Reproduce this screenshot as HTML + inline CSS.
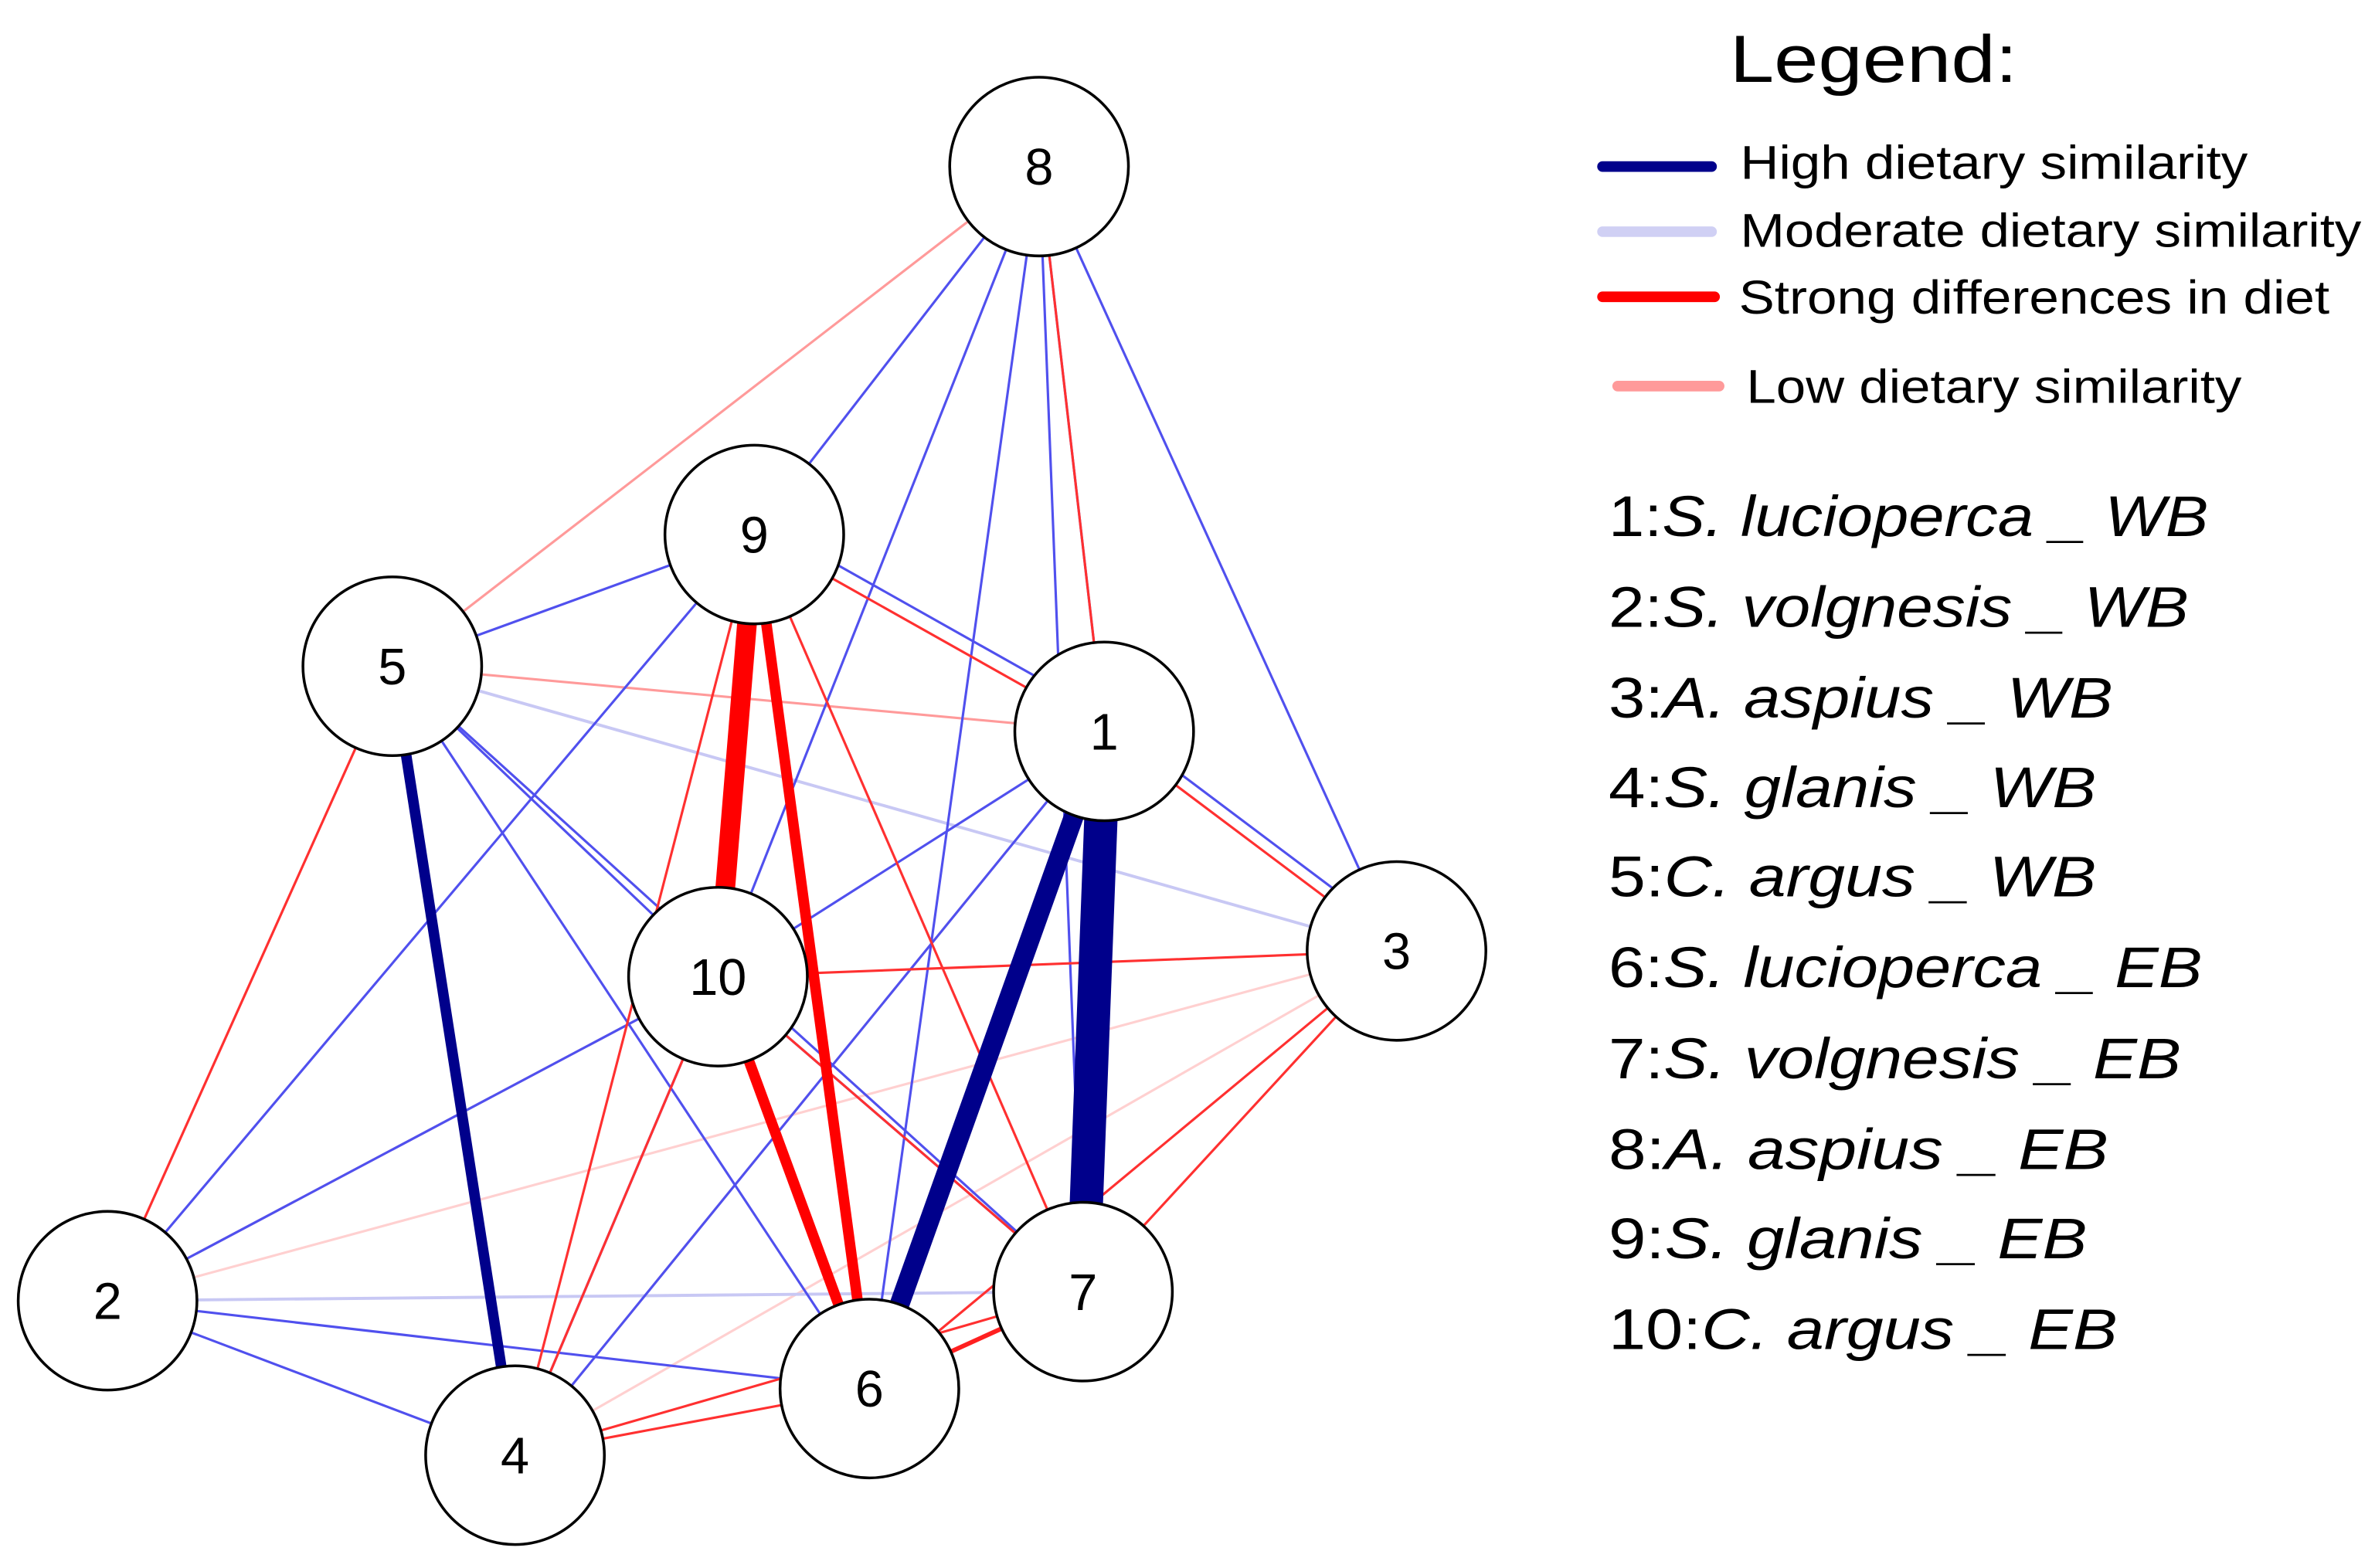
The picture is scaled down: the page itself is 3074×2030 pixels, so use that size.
<!DOCTYPE html>
<html><head><meta charset="utf-8"><style>
html,body{margin:0;padding:0;background:#fff;}
svg{display:block;}
text{font-family:"Liberation Sans",Arial,sans-serif;}
</style></head><body>
<svg width="3074" height="2030" viewBox="0 0 1568 1035.5" xmlns="http://www.w3.org/2000/svg">
<g fill="none" stroke-linecap="butt">
<g stroke="#ff9a9a" stroke-width="1.6">
<line x1="686" y1="110" x2="259" y2="440"/>
<line x1="259" y1="440" x2="729" y2="483"/>
</g>
<g stroke="#ffd0d0" stroke-width="1.6">
<line x1="71" y1="859" x2="474" y2="645"/>
<line x1="71" y1="859" x2="922" y2="628"/>
<line x1="340" y1="961" x2="922" y2="628"/>
<line x1="340" y1="961" x2="729" y2="483"/>
<line x1="259" y1="440" x2="71" y2="859"/>
</g>
<g stroke="#c8c8f4" stroke-width="2">
<line x1="259" y1="440" x2="922" y2="628"/>
<line x1="71" y1="859" x2="715" y2="853"/>
</g>
<g stroke="#5050ee" stroke-width="1.6">
<line x1="686" y1="110" x2="498" y2="353"/>
<line x1="498" y1="353" x2="71" y2="859"/>
<line x1="686" y1="110" x2="474" y2="645"/>
<line x1="686" y1="110" x2="574" y2="917"/>
<line x1="686" y1="110" x2="715" y2="853"/>
<line x1="686" y1="110" x2="729" y2="483"/>
<line x1="686" y1="110" x2="922" y2="628"/>
<line x1="259" y1="440" x2="498" y2="353"/>
<line x1="259" y1="440" x2="474" y2="645"/>
<line x1="259" y1="440" x2="574" y2="917"/>
<line x1="259" y1="440" x2="715" y2="853"/>
<line x1="503" y1="345" x2="734" y2="475"/>
<line x1="474" y1="645" x2="729" y2="483"/>
<line x1="734" y1="477" x2="927" y2="622"/>
<line x1="729" y1="483" x2="340" y2="961"/>
<line x1="474" y1="645" x2="340" y2="961"/>
<line x1="474" y1="645" x2="71" y2="859"/>
<line x1="474" y1="645" x2="715" y2="853"/>
<line x1="71" y1="859" x2="574" y2="917"/>
<line x1="71" y1="859" x2="340" y2="961"/>
</g>
<g stroke="#ff3030" stroke-width="1.6">
<line x1="686" y1="110" x2="729" y2="483"/>
<line x1="259" y1="440" x2="71" y2="859"/>
<line x1="498" y1="353" x2="729" y2="483"/>
<line x1="498" y1="353" x2="715" y2="853"/>
<line x1="498" y1="353" x2="340" y2="961"/>
<line x1="474" y1="645" x2="922" y2="628"/>
<line x1="474" y1="645" x2="715" y2="853"/>
<line x1="474" y1="645" x2="340" y2="961"/>
<line x1="729" y1="483" x2="922" y2="628"/>
<line x1="922" y1="628" x2="574" y2="917"/>
<line x1="922" y1="628" x2="715" y2="853"/>
<line x1="340" y1="961" x2="574" y2="917"/>
<line x1="340" y1="961" x2="715" y2="853"/>
</g>
<line x1="574" y1="917" x2="715" y2="853" stroke="#ff2020" stroke-width="3"/>
<line x1="498" y1="353" x2="474" y2="645" stroke="#ff0000" stroke-width="13"/>
<line x1="498" y1="353" x2="574" y2="917" stroke="#ff0000" stroke-width="7"/>
<line x1="474" y1="645" x2="574" y2="917" stroke="#ff0000" stroke-width="7"/>
<line x1="259" y1="440" x2="340" y2="961" stroke="#00008b" stroke-width="7"/>
<line x1="729" y1="483" x2="574" y2="917" stroke="#00008b" stroke-width="13"/>
<line x1="729" y1="483" x2="715" y2="853" stroke="#00008b" stroke-width="22"/>
</g>
<g fill="#fff" stroke="#000" stroke-width="1.8">
<circle cx="686" cy="110" r="59"/>
<circle cx="498" cy="353" r="59"/>
<circle cx="259" cy="440" r="59"/>
<circle cx="729" cy="483" r="59"/>
<circle cx="922" cy="628" r="59"/>
<circle cx="474" cy="645" r="59"/>
<circle cx="71" cy="859" r="59"/>
<circle cx="715" cy="853" r="59"/>
<circle cx="574" cy="917" r="59"/>
<circle cx="340" cy="961" r="59"/>
</g>
<g font-size="34" text-anchor="middle" fill="#000">
<text x="686" y="122">8</text>
<text x="498" y="365">9</text>
<text x="259" y="452">5</text>
<text x="729" y="495">1</text>
<text x="922" y="640">3</text>
<text x="474" y="657">10</text>
<text x="71" y="871">2</text>
<text x="715" y="865">7</text>
<text x="574" y="929">6</text>
<text x="340" y="973">4</text>
</g>
<text x="1142" y="54" font-size="44" textLength="190" lengthAdjust="spacingAndGlyphs">Legend:</text>
<g stroke-width="7" stroke-linecap="round">
<line x1="1058" y1="110" x2="1130" y2="110" stroke="#00008b"/>
<line x1="1058" y1="153" x2="1130" y2="153" stroke="#d0d0f4"/>
<line x1="1058" y1="196" x2="1132" y2="196" stroke="#ff0000"/>
<line x1="1068" y1="255" x2="1135" y2="255" stroke="#ff9a9a"/>
</g>
<g font-size="31" fill="#000">
<text x="1149" y="118" textLength="335" lengthAdjust="spacingAndGlyphs">High dietary similarity</text>
<text x="1149" y="163" textLength="410" lengthAdjust="spacingAndGlyphs">Moderate dietary similarity</text>
<text x="1148" y="207" textLength="390" lengthAdjust="spacingAndGlyphs">Strong differences in diet</text>
<text x="1153" y="266" textLength="327" lengthAdjust="spacingAndGlyphs">Low dietary similarity</text>
</g>
<g font-size="38" fill="#000">
<text x="1062" y="354" textLength="396" lengthAdjust="spacingAndGlyphs">1:<tspan font-style="italic">S. lucioperca _ WB</tspan></text>
<text x="1062" y="414" textLength="383" lengthAdjust="spacingAndGlyphs">2:<tspan font-style="italic">S. volgnesis _ WB</tspan></text>
<text x="1062" y="474" textLength="333" lengthAdjust="spacingAndGlyphs">3:<tspan font-style="italic">A. aspius _ WB</tspan></text>
<text x="1062" y="533" textLength="322" lengthAdjust="spacingAndGlyphs">4:<tspan font-style="italic">S. glanis _ WB</tspan></text>
<text x="1062" y="592" textLength="322" lengthAdjust="spacingAndGlyphs">5:<tspan font-style="italic">C. argus _ WB</tspan></text>
<text x="1062" y="652" textLength="392" lengthAdjust="spacingAndGlyphs">6:<tspan font-style="italic">S. lucioperca _ EB</tspan></text>
<text x="1062" y="712" textLength="378" lengthAdjust="spacingAndGlyphs">7:<tspan font-style="italic">S. volgnesis _ EB</tspan></text>
<text x="1062" y="772" textLength="330" lengthAdjust="spacingAndGlyphs">8:<tspan font-style="italic">A. aspius _ EB</tspan></text>
<text x="1062" y="831" textLength="316" lengthAdjust="spacingAndGlyphs">9:<tspan font-style="italic">S. glanis _ EB</tspan></text>
<text x="1062" y="891" textLength="336" lengthAdjust="spacingAndGlyphs">10:<tspan font-style="italic">C. argus _ EB</tspan></text>
</g>
</svg>
</body></html>
